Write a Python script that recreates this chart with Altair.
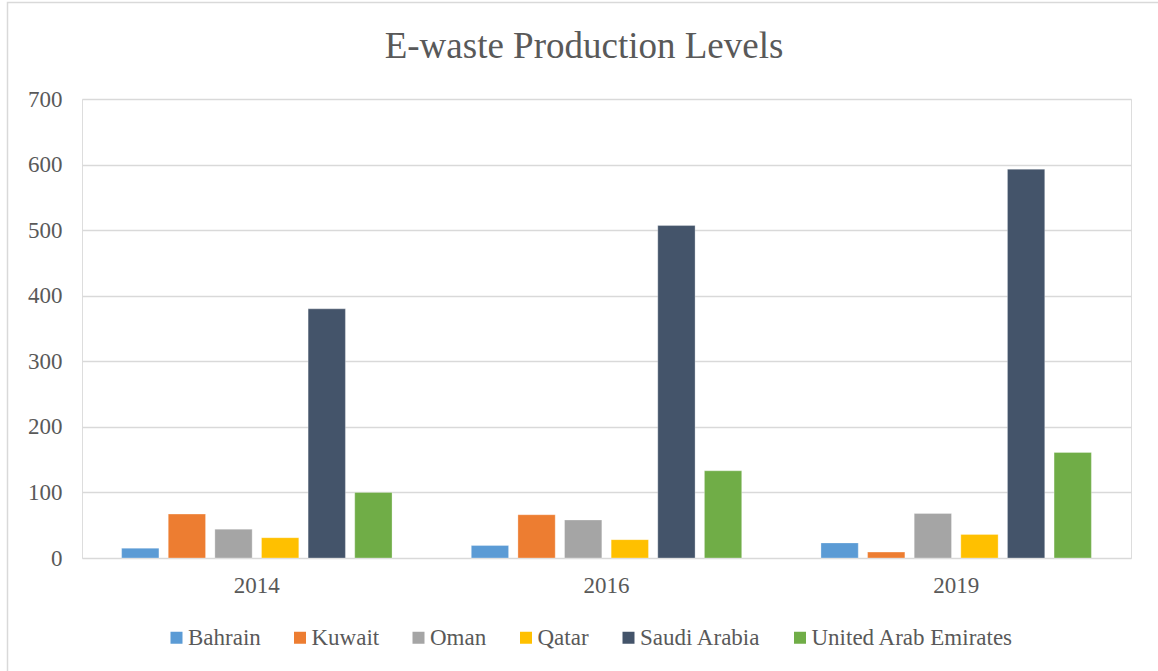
import altair as alt
import pandas as pd

# E-waste production (kilotonnes) by Gulf country
years = ["2014", "2016", "2019"]
countries = ["Bahrain", "Kuwait", "Oman", "Qatar", "Saudi Arabia", "United Arab Emirates"]
bahrain = [15, 19, 23]
kuwait = [67, 66, 9]
oman = [44, 58, 68]
qatar = [31, 28, 36]
saudi_arabia = [380, 507, 593]
uae = [100, 133, 161]
y_ticks = [0, 100, 200, 300, 400, 500, 600, 700]
chart_title = "E-waste Production Levels"

palette = ["#5B9BD5", "#ED7D31", "#A5A5A5", "#FFC000", "#44546A", "#70AD47"]
FONT = "Liberation Serif"
TEXT = "#595959"
GRID = "#D9D9D9"

series = [bahrain, kuwait, oman, qatar, saudi_arabia, uae]
rows = []
for name, vals in zip(countries, series):
    for yr, v in zip(years, vals):
        rows.append({"Year": yr, "Country": name, "Value": v})
df = pd.DataFrame(rows)

W, H = 1049, 459
one = pd.DataFrame({"k": [0]})

# light frame around the whole chart
frame = alt.Chart(one).mark_rect(
    fill=None, stroke=GRID, strokeWidth=1.5
).encode(
    x=alt.value(-74.5), x2=alt.value(W + 60),
    y=alt.value(-96.5), y2=alt.value(H + 150),
)

# chart heading
heading = alt.Chart(one).mark_text(
    text=chart_title, font=FONT, fontSize=37, color=TEXT,
    align="center", baseline="alphabetic",
).encode(x=alt.value(502), y=alt.value(-41))

bars = alt.Chart(df).mark_bar(stroke="white", strokeWidth=0.6, strokeOpacity=0.5).encode(
    x=alt.X("Year:N", sort=years,
            scale=alt.Scale(paddingInner=0, paddingOuter=0),
            axis=alt.Axis(title=None, labelAngle=0, ticks=False, domain=False,
                          labelFontSize=23, labelFont=FONT, labelColor=TEXT,
                          labelPadding=16)),
    xOffset=alt.XOffset("Country:N", sort=countries,
                        scale=alt.Scale(paddingInner=0.2, paddingOuter=0.85)),
    y=alt.Y("Value:Q", scale=alt.Scale(domain=[0, 700], nice=False),
            axis=alt.Axis(title=None, values=y_ticks, ticks=False, domain=False,
                          labelFontSize=23, labelFont=FONT, labelColor=TEXT,
                          labelPadding=20, gridColor=GRID, gridWidth=1.3)),
    color=alt.Color("Country:N", sort=countries,
                    scale=alt.Scale(domain=countries, range=palette),
                    legend=alt.Legend(title=None, orient="none", direction="horizontal",
                                      legendX=83, legendY=527,
                                      symbolType="square", symbolSize=144,
                                      symbolStrokeWidth=0, labelFontSize=23,
                                      labelFont=FONT, labelColor=TEXT, labelLimit=0,
                                      labelOffset=0, columnPadding=27.5)),
)

chart = alt.layer(frame, heading, bars).properties(
    width=W, height=H,
    autosize=alt.AutoSizeParams(type="none"),
    padding={"left": 82, "top": 99, "right": 27, "bottom": 113},
).configure_view(stroke=None).configure(background="white")

chart.save("out.html", embed_options={"renderer": "svg", "actions": False})
